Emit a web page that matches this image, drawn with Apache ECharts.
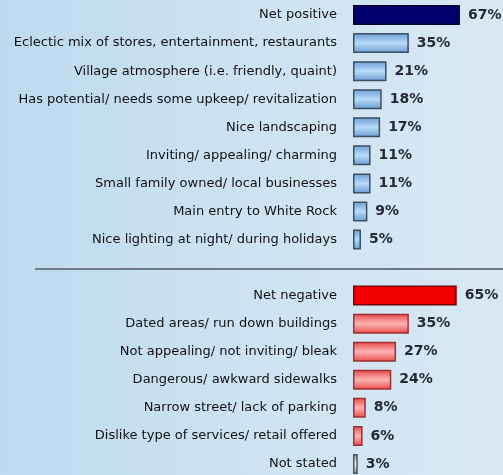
<!DOCTYPE html>
<html><head><meta charset="utf-8">
<script src="https://cdn.jsdelivr.net/npm/echarts@6/dist/echarts.min.js"></script>
<style>
html,body{margin:0;padding:0;}
#c{width:503px;height:475px;background:linear-gradient(to right,#bddaef 0%,#cde3f3 50%,#d8e8f3 100%);}
</style></head>
<body><div id="c"></div>
<script>
const positiveCategories = ["Net positive","Eclectic mix of stores, entertainment, restaurants","Village atmosphere (i.e. friendly, quaint)","Has potential/ needs some upkeep/ revitalization","Nice landscaping","Inviting/ appealing/ charming","Small family owned/ local businesses","Main entry to White Rock","Nice lighting at night/ during holidays"];
const positiveValues = [67,35,21,18,17,11,11,9,5];
const negativeCategories = ["Net negative","Dated areas/ run down buildings","Not appealing/ not inviting/ bleak","Dangerous/ awkward sidewalks","Narrow street/ lack of parking","Dislike type of services/ retail offered","Not stated"];
const negativeValues = [65,35,27,24,8,6,3];

const grad = (edge, mid) => new echarts.graphic.LinearGradient(0,0,0,1,[{offset:0,color:edge},{offset:0.5,color:mid},{offset:1,color:edge}]);
const styles = {
  netPos:{color:'#00006e',borderColor:'#00002a',borderWidth:1.5},
  pos:{color:grad('#6a9bd0','#b8dcfa'),borderColor:'#3d4f63',borderWidth:1.5},
  netNeg:{color:'#f40000',borderColor:'#7a0000',borderWidth:1.5},
  neg:{color:grad('#e84848','#ffb4b4'),borderColor:'#a03030',borderWidth:1.5},
  ns:{color:grad('#8a8a8a','#ffffff'),borderColor:'#555555',borderWidth:1.5}
};
const categories = [...positiveCategories, '', ...negativeCategories];
const data = [];
positiveValues.forEach((v,i)=>data.push({value:v,itemStyle:i===0?styles.netPos:styles.pos}));
data.push({value:'-',itemStyle:{}});
negativeValues.forEach((v,i)=>{
  const last = i===negativeValues.length-1;
  data.push({value:v,itemStyle:i===0?styles.netNeg:(last?styles.ns:styles.neg)});
});

const chart = echarts.init(document.getElementById('c'),null,{renderer:'canvas'});
chart.setOption({
  animation:false,
  grid:{left:353,top:1,right:0,height:477,containLabel:false,outerBoundsMode:'none'},
  xAxis:{type:'value',min:0,max:94,show:false},
  yAxis:{type:'category',data:categories,inverse:true,
    axisLine:{show:false},axisTick:{show:false},splitLine:{show:false},
    axisLabel:{margin:16,color:'#111111',fontFamily:'DejaVu Sans',fontSize:13}},
  series:[{type:'bar',data:data,barWidth:20,
    label:{show:true,position:'right',distance:8,formatter:'{c}%',color:'#252a36',fontFamily:'DejaVu Sans',fontSize:14,fontWeight:'bold'}}]
});
const y = chart.convertToPixel({yAxisIndex:0},'') + 1.5;
chart.setOption({graphic:[{type:'line',shape:{x1:35,y1:y,x2:503,y2:y},style:{stroke:'#6f7a86',lineWidth:2}}]});
</script></body></html>
